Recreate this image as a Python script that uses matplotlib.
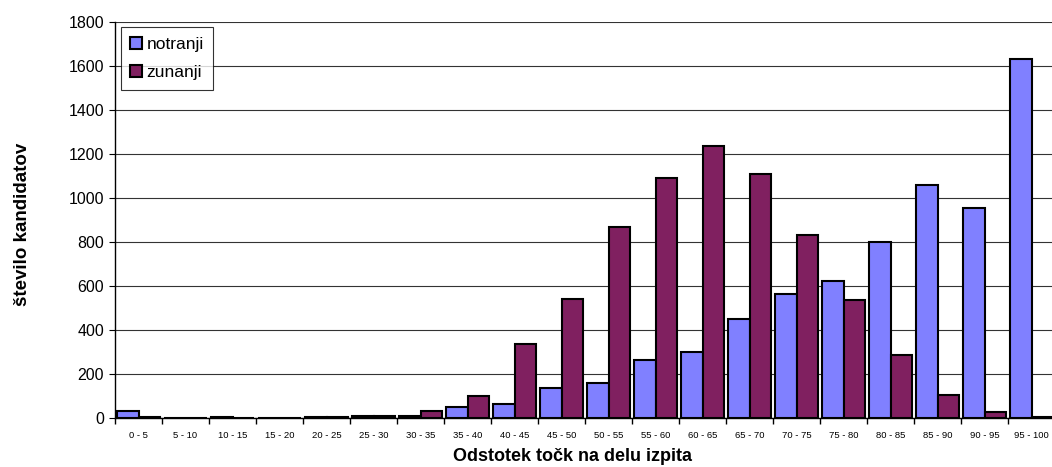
#!/usr/bin/env python3
# Porazdelitev kandidatov po odstotku točk: notranji in zunanji del izpita.

import matplotlib
matplotlib.use("Agg")
import matplotlib.pyplot as plt
import numpy as np

CATEGORIES = [
    "0 - 5", "5 - 10", "10 - 15", "15 - 20", "20 - 25", "25 - 30", "30 - 35",
    "35 - 40", "40 - 45", "45 - 50", "50 - 55", "55 - 60", "60 - 65", "65 - 70",
    "70 - 75", "75 - 80", "80 - 85", "85 - 90", "90 - 95", "95 - 100",
]
NOTRANJI = [30, 0, 3, 2, 5, 8, 8, 50, 65, 138, 157, 262, 298, 450, 565, 625, 800, 1057, 955, 1632]
ZUNANJI = [3, 0, 0, 2, 5, 8, 30, 100, 335, 540, 870, 1090, 1235, 1110, 833, 535, 286, 105, 28, 3]

BLUE = "#8080FF"
PURPLE = "#802060"

plt.rcParams["font.family"] = ["Liberation Sans", "DejaVu Sans"]

fig = plt.figure(figsize=(10.52, 4.67), dpi=100)
# desni rob osi sega malo čez sliko, kot v izvirniku
ax = fig.add_axes([115 / 1052, 49 / 467, 940 / 1052, 396 / 467])

x = np.arange(len(CATEGORIES))
w = 0.455
ax.bar(x - w / 2, NOTRANJI, width=w, color=BLUE, edgecolor="black", linewidth=1.5,
       label="notranji", zorder=3)
ax.bar(x + w / 2, ZUNANJI, width=w, color=PURPLE, edgecolor="black", linewidth=1.5,
       label="zunanji", zorder=3)

ax.set_xlim(-0.5, len(CATEGORIES) - 0.5)
ax.set_ylim(0, 1800)
ax.set_yticks(np.arange(0, 1801, 200))
ax.yaxis.grid(True, color="#333333", linewidth=0.8, zorder=0)

ax.set_xticks(x)
ax.set_xticklabels(CATEGORIES, fontsize=6.8)
ax.set_xticks(np.arange(-0.5, len(CATEGORIES)), minor=True)
ax.tick_params(axis="x", which="major", length=0, pad=9)
ax.tick_params(axis="x", which="minor", length=4, width=1, direction="out")
ax.tick_params(axis="y", length=4, width=0.8, labelsize=11.5, pad=4)

for side in ("top", "right"):
    ax.spines[side].set_visible(False)
ax.spines["left"].set_linewidth(1.0)
ax.spines["bottom"].set_linewidth(1.0)

ax.set_xlabel("Odstotek točk na delu izpita", fontsize=13, fontweight="bold")
ax.xaxis.label.set_va("center")
ax.xaxis.set_label_coords(0.487, -0.096)
ax.set_ylabel("število kandidatov", fontsize=13.5, fontweight="bold")
ax.yaxis.label.set_va("center")
ax.yaxis.set_label_coords(-0.098, 0.49)

leg = ax.legend(loc="upper left", bbox_to_anchor=(0.006, 0.987), fontsize=12.5,
                frameon=True, fancybox=False, edgecolor="black", handlelength=0.7,
                handleheight=0.7, handletextpad=0.25, labelspacing=0.75, borderpad=0.55,
                borderaxespad=0.0)
leg.get_frame().set_linewidth(0.8)

fig.savefig("out.png", dpi=100)
